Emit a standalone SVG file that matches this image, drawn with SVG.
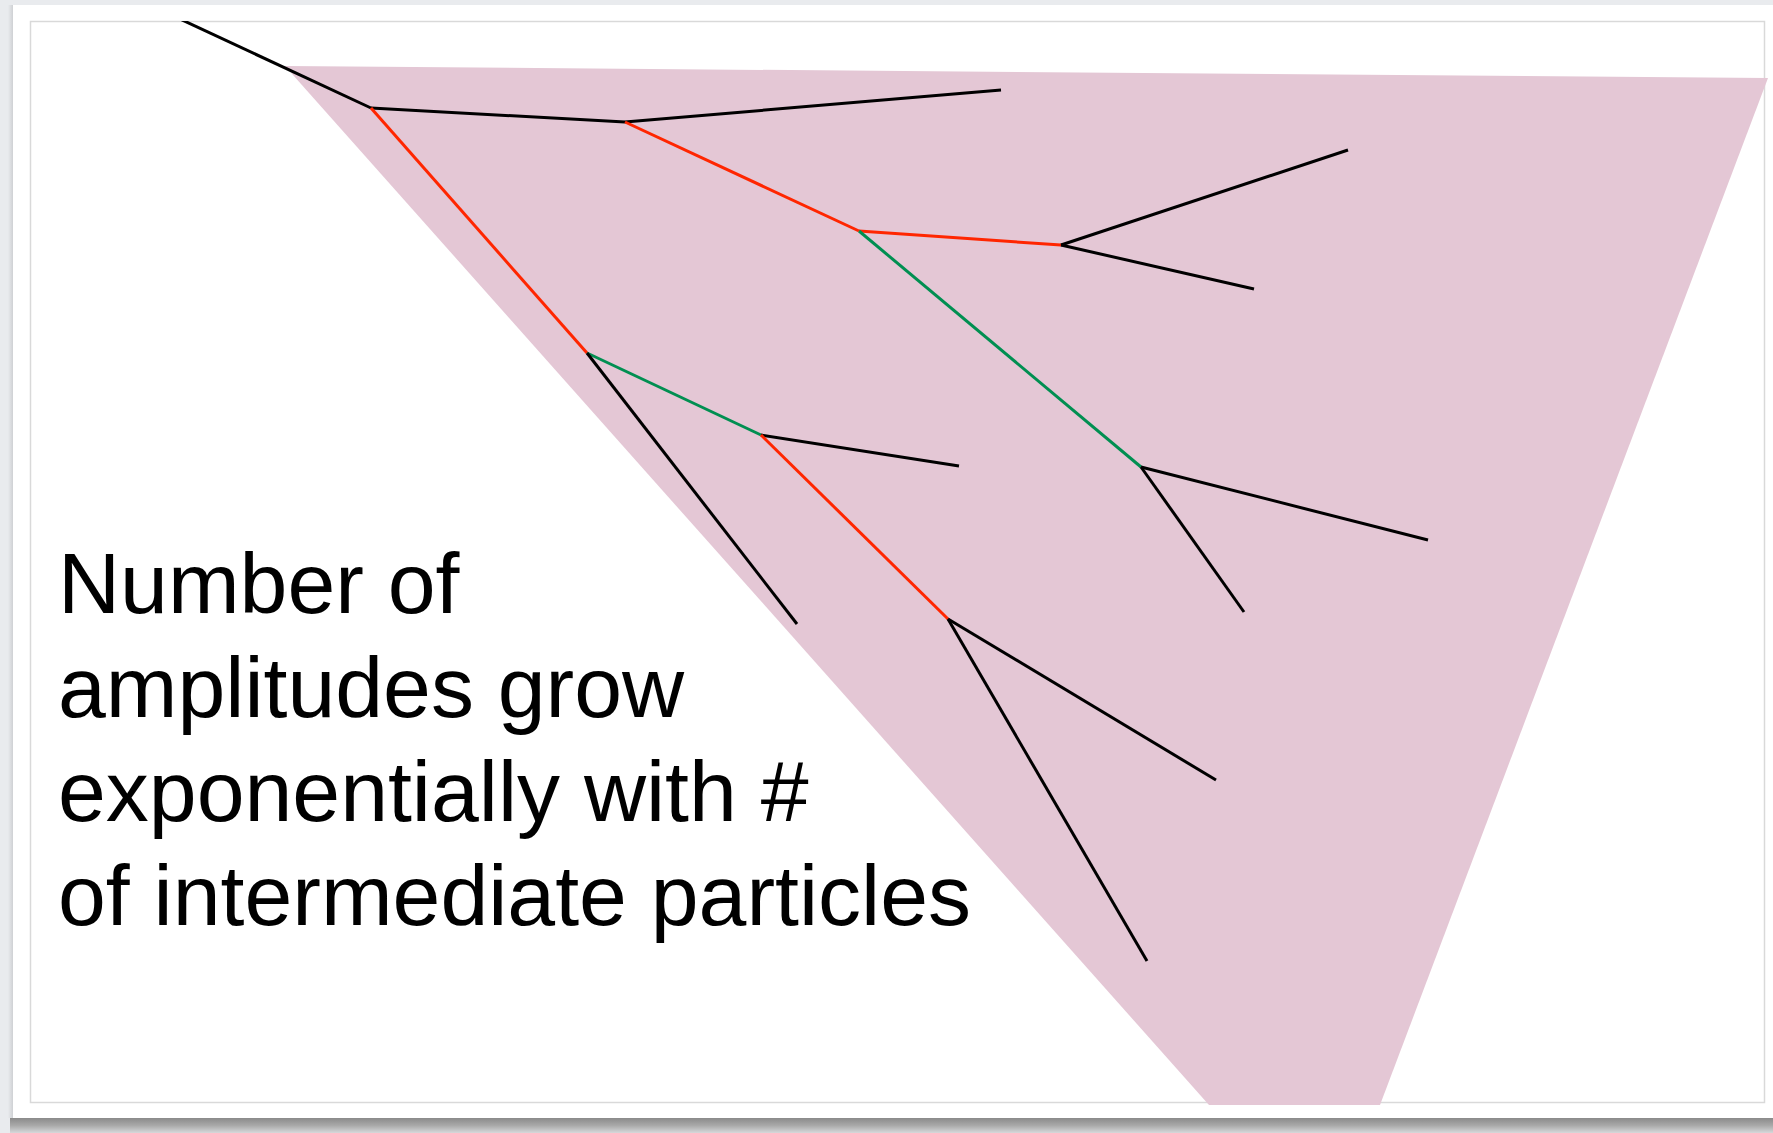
<svg xmlns="http://www.w3.org/2000/svg" width="1773" height="1133" viewBox="0 0 1773 1133">
  <defs>
    <linearGradient id="bshadow" x1="0" y1="0" x2="0" y2="1">
      <stop offset="0" stop-color="#8a8a8a"/>
      <stop offset="0.5" stop-color="#a9a9a9"/>
      <stop offset="1" stop-color="#d6d8da"/>
    </linearGradient>
    <linearGradient id="lshadow" x1="0" y1="0" x2="1" y2="0">
      <stop offset="0" stop-color="#e9ebee"/>
      <stop offset="1" stop-color="#c9cbce"/>
    </linearGradient>
    <clipPath id="slide">
      <rect x="30" y="21" width="1738" height="1084"/>
    </clipPath>
  </defs>
  <style>
    .ln { fill: none; stroke-width: 3; stroke-linecap: butt; stroke-linejoin: miter; }
    .k { stroke: #000000; }
    .r { stroke: #ff2600; }
    .g { stroke: #008f51; }
    .lbl { font-family: "Liberation Sans", Arial, Helvetica, sans-serif; font-size: 86px; fill: #000000; }
  </style>

  <g id="frame">
    <rect x="0" y="0" width="1773" height="1133" fill="#e9ebee"/>
    <rect x="8" y="5" width="6" height="1113" fill="url(#lshadow)"/>
    <rect x="10" y="1118" width="1763" height="15" fill="url(#bshadow)"/>
    <rect x="13" y="5" width="1760" height="1113" fill="#ffffff"/>
    <rect x="30.5" y="21.5" width="1734" height="1081" fill="none" stroke="#d9d9d9" stroke-width="1.5"/>
  </g>

  <g id="region" clip-path="url(#slide)">
    <polygon points="285,66 1768,78 1380,1105 1209,1105" fill="#e4c7d5"/>
  </g>

  <g id="connectors" clip-path="url(#slide)">
    <line class="ln k" x1="180" y1="19" x2="371" y2="108"/>
    <line class="ln k" x1="371" y1="108" x2="625" y2="122"/>
    <line class="ln k" x1="625" y1="122" x2="1001" y2="90"/>
    <line class="ln r" x1="371" y1="108" x2="587" y2="353"/>
    <line class="ln r" x1="625" y1="122" x2="859" y2="231"/>
    <line class="ln r" x1="859" y1="231" x2="1061" y2="245"/>
    <line class="ln k" x1="1061" y1="245" x2="1348" y2="150"/>
    <line class="ln k" x1="1061" y1="245" x2="1254" y2="289"/>
    <line class="ln g" x1="859" y1="231" x2="1141" y2="467"/>
    <line class="ln k" x1="1141" y1="467" x2="1428" y2="540"/>
    <line class="ln k" x1="1141" y1="467" x2="1244" y2="612"/>
    <line class="ln g" x1="587" y1="353" x2="761" y2="435"/>
    <line class="ln k" x1="587" y1="353" x2="797" y2="624"/>
    <line class="ln k" x1="761" y1="435" x2="959" y2="466"/>
    <line class="ln r" x1="761" y1="435" x2="948" y2="619"/>
    <line class="ln k" x1="948" y1="619" x2="1216" y2="780"/>
    <line class="ln k" x1="948" y1="619" x2="1147" y2="961"/>
  </g>

  <g id="caption">
    <text class="lbl" x="58" y="613">Number of</text>
    <text class="lbl" x="58" y="717">amplitudes grow</text>
    <text class="lbl" x="58" y="821">exponentially with #</text>
    <text class="lbl" x="58" y="925">of intermediate particles</text>
  </g>
</svg>
